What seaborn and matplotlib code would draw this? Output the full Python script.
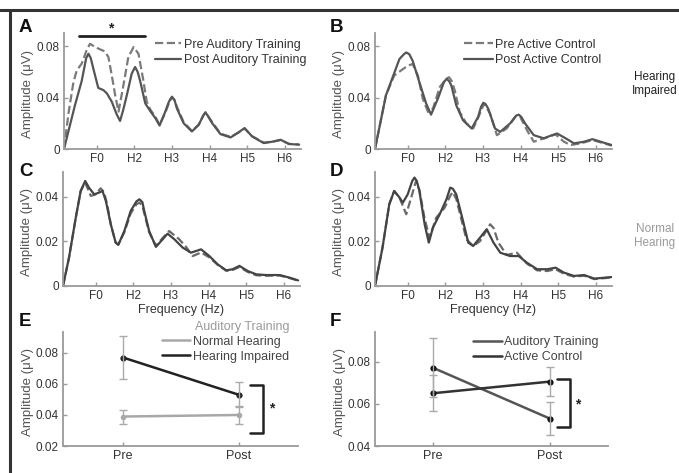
import numpy as np
import pandas as pd
import matplotlib
matplotlib.use("Agg")
import matplotlib.pyplot as plt
import seaborn as sns
from matplotlib.lines import Line2D

# ---------------- data ----------------
# Panel A (hearing impaired, auditory training)
a_post_f = [13, 42, 60, 72, 78, 84, 91, 104, 118, 127, 140, 153, 162, 170, 180, 193, 202, 209, 216, 229, 242, 256, 267, 282, 292, 300, 307, 313, 331, 353, 371, 383, 389, 395, 407, 429, 456, 478, 493, 513, 544, 571, 589, 611, 638]
a_post_v = [0.000, 0.034, 0.053, 0.071, 0.0743, 0.071, 0.0627, 0.0477, 0.0459, 0.0434, 0.0369, 0.0271, 0.0219, 0.030, 0.042, 0.0588, 0.064, 0.060, 0.0524, 0.0356, 0.0297, 0.024, 0.0183, 0.029, 0.037, 0.0408, 0.038, 0.0317, 0.0201, 0.0137, 0.0188, 0.026, 0.0286, 0.026, 0.0201, 0.0116, 0.009, 0.0132, 0.0163, 0.0098, 0.0046, 0.0059, 0.0072, 0.0039, 0.0034]
a_pre_f = [13, 25, 38, 47, 60, 73, 82, 96, 109, 122, 131, 140, 149, 158, 171, 184, 198, 211, 223, 233, 242, 256, 267, 282, 292, 300, 307, 313, 331, 353, 371, 383, 389, 395, 407, 429, 456, 478, 493, 513, 544, 571, 589, 611, 638]
a_pre_v = [0.000, 0.028, 0.052, 0.0614, 0.0666, 0.0769, 0.0821, 0.0795, 0.0777, 0.0761, 0.0717, 0.0575, 0.042, 0.0292, 0.0498, 0.0717, 0.0795, 0.0743, 0.055, 0.0369, 0.031, 0.025, 0.019, 0.028, 0.036, 0.0405, 0.038, 0.033, 0.021, 0.014, 0.019, 0.026, 0.0285, 0.026, 0.021, 0.012, 0.0095, 0.013, 0.016, 0.010, 0.005, 0.006, 0.007, 0.004, 0.0035]

# Panel B (hearing impaired, active control)
b_post_f = [13, 42, 60, 78, 90, 96, 104, 113, 131, 149, 162, 180, 196, 203, 210, 216, 229, 247, 270, 287, 295, 301, 307, 314, 332, 346, 372, 388, 395, 402, 412, 435, 462, 479, 497, 520, 542, 569, 591, 618, 642]
b_post_v = [0.000, 0.0418, 0.056, 0.0702, 0.074, 0.0753, 0.074, 0.0689, 0.0521, 0.0354, 0.0268, 0.0392, 0.052, 0.0547, 0.053, 0.0495, 0.0341, 0.0224, 0.016, 0.025, 0.033, 0.0361, 0.035, 0.0315, 0.016, 0.0134, 0.0199, 0.026, 0.0268, 0.025, 0.0199, 0.0108, 0.0083, 0.0103, 0.0121, 0.0083, 0.0044, 0.0057, 0.0077, 0.0052, 0.0031]
b_pre_f = [13, 42, 64, 82, 100, 113, 127, 140, 154, 167, 185, 203, 210, 217, 225, 238, 256, 274, 288, 303, 319, 337, 363, 386, 399, 417, 435, 462, 493, 515, 533, 560, 591, 622, 642]
b_pre_v = [0.000, 0.0418, 0.0573, 0.0612, 0.065, 0.0663, 0.0573, 0.0392, 0.0289, 0.0315, 0.0483, 0.055, 0.056, 0.053, 0.0457, 0.0289, 0.0199, 0.016, 0.025, 0.0354, 0.0276, 0.0108, 0.016, 0.025, 0.025, 0.0147, 0.0057, 0.0083, 0.0114, 0.0057, 0.0031, 0.0044, 0.007, 0.0044, 0.0026]

# Panel C (normal hearing, auditory training)
c_post_f = [13, 29, 47, 60, 72, 82, 96, 109, 118, 127, 140, 153, 160, 176, 193, 208, 216, 224, 229, 242, 260, 278, 291, 309, 331, 353, 380, 402, 424, 447, 464, 482, 504, 527, 553, 589, 616, 638]
c_post_v = [0.000, 0.0127, 0.0306, 0.0425, 0.047, 0.044, 0.041, 0.0418, 0.0425, 0.038, 0.0276, 0.0194, 0.0184, 0.0246, 0.0336, 0.0378, 0.0388, 0.0375, 0.0336, 0.0246, 0.0175, 0.0209, 0.0234, 0.0209, 0.0172, 0.0149, 0.0164, 0.0134, 0.0097, 0.007, 0.0075, 0.009, 0.0067, 0.0052, 0.0049, 0.0049, 0.0037, 0.0025]
c_pre_f = [13, 29, 47, 60, 72, 87, 100, 113, 122, 131, 140, 153, 160, 176, 193, 208, 216, 224, 229, 242, 260, 278, 295, 322, 340, 358, 380, 402, 424, 447, 464, 482, 504, 527, 553, 589, 616, 638]
c_pre_v = [0.000, 0.0127, 0.0306, 0.0425, 0.0462, 0.0403, 0.041, 0.0437, 0.042, 0.036, 0.0276, 0.0194, 0.0186, 0.0240, 0.0325, 0.0365, 0.0373, 0.036, 0.0325, 0.0240, 0.0180, 0.0215, 0.0246, 0.0209, 0.0175, 0.0134, 0.0150, 0.0128, 0.0095, 0.0068, 0.0072, 0.0085, 0.0063, 0.0048, 0.0046, 0.0047, 0.0035, 0.0024]

# Panel D (normal hearing, active control)
d_post_f = [13, 33, 51, 64, 78, 87, 100, 112, 118, 124, 131, 145, 156, 167, 185, 203, 213, 220, 229, 247, 261, 274, 292, 310, 328, 346, 372, 395, 417, 444, 471, 493, 515, 542, 569, 596, 622, 642]
d_post_v = [0.000, 0.0172, 0.0366, 0.0425, 0.0396, 0.0373, 0.041, 0.047, 0.0485, 0.047, 0.0425, 0.0276, 0.0194, 0.0261, 0.0321, 0.0388, 0.044, 0.0435, 0.041, 0.0291, 0.0194, 0.0179, 0.0216, 0.0254, 0.0194, 0.0149, 0.0134, 0.0134, 0.0104, 0.0075, 0.0075, 0.0082, 0.006, 0.0045, 0.0049, 0.0033, 0.0037, 0.004]
d_pre_f = [13, 33, 51, 64, 78, 96, 110, 122, 131, 145, 158, 176, 198, 212, 219, 229, 256, 274, 292, 310, 319, 328, 341, 363, 390, 417, 444, 471, 493, 515, 542, 569, 596, 622, 642]
d_pre_v = [0.000, 0.0172, 0.0366, 0.0425, 0.0396, 0.0321, 0.040, 0.047, 0.043, 0.030, 0.0216, 0.0306, 0.035, 0.040, 0.042, 0.039, 0.0209, 0.0179, 0.0200, 0.0250, 0.0276, 0.0260, 0.0194, 0.0139, 0.0149, 0.0100, 0.0070, 0.0067, 0.0075, 0.0055, 0.0042, 0.0046, 0.0031, 0.0035, 0.0038]

harm_ticks = [100, 200, 300, 400, 500, 600]
harm_labels = ["F0", "H2", "H3", "H4", "H5", "H6"]

# Panels E and F
conditions = ["Pre", "Post"]
e_nh_mean = [0.039, 0.040]
e_nh_err = [0.0045, 0.0055]
e_hi_mean = [0.077, 0.053]
e_hi_err = [0.014, 0.008]
f_at_mean = [0.077, 0.053]
f_at_err = [0.014, 0.008]
f_ac_mean = [0.065, 0.0705]
f_ac_err = [0.0085, 0.007]

# ---------------- figure ----------------
sns.set_theme(style="ticks")
plt.rcParams['font.family'] = ['Liberation Sans', 'DejaVu Sans']

W, H = 679, 473
fig = plt.figure(figsize=(W / 100, H / 100), dpi=100)
fig.patch.set_facecolor("white")


def px_axes(x0, y0, x1, y1):
    return fig.add_axes([x0 / W, 1 - y1 / H, (x1 - x0) / W, (y1 - y0) / H])


AX = "#9a9a9a"
TXT = "#333333"


def style(ax):
    sns.despine(ax=ax)
    for s in ["left", "bottom"]:
        ax.spines[s].set_color(AX)
        ax.spines[s].set_linewidth(1.3)
    ax.tick_params(direction="in", length=3, width=1, color=AX, labelsize=8.5,
                   labelcolor=TXT, pad=3)
    ax.set_facecolor("white")
    ax.set_ylabel("Amplitude (μV)", fontsize=9.5, color="#555555")
    ax.yaxis.set_label_coords(-0.125, 0.47)


def spectrum(ax, pre_f, pre_v, post_f, post_v, pre_lab, post_lab, ylim, yticks, ylabels,
             pre_col="#7a7a7a", post_col="#555555"):
    sns.lineplot(x=pre_f, y=pre_v, ax=ax, sort=False, estimator=None, color=pre_col,
                 linestyle="--", linewidth=1.6, label=pre_lab)
    sns.lineplot(x=post_f, y=post_v, ax=ax, sort=False, estimator=None, color=post_col,
                 linestyle="-", linewidth=1.6, label=post_lab)
    ax.set_xlim(13, 643)
    ax.set_ylim(*ylim)
    ax.set_xticks(harm_ticks)
    ax.set_xticklabels(harm_labels)
    ax.set_yticks(yticks)
    ax.set_yticklabels(ylabels)
    ax.set_xlabel("")
    style(ax)


axA = px_axes(64, 33, 301, 149)
spectrum(axA, a_pre_f, a_pre_v, a_post_f, a_post_v, "Pre Auditory Training", "Post Auditory Training",
         (0, 0.0905), [0, 0.04, 0.08], ["0", "0.04", "0.08"])
axB = px_axes(375, 33, 612, 149)
spectrum(axB, b_pre_f, b_pre_v, b_post_f, b_post_v, "Pre Active Control", "Post Active Control",
         (0, 0.0905), [0, 0.04, 0.08], ["0", "0.04", "0.08"])
axC = px_axes(63, 172, 300, 286)
spectrum(axC, c_pre_f, c_pre_v, c_post_f, c_post_v, None, None,
         (0, 0.051), [0, 0.02, 0.04], ["0", "0.02", "0.04"], pre_col="#6a6a6a", post_col="#444444")
axD = px_axes(375, 172, 612, 286)
spectrum(axD, d_pre_f, d_pre_v, d_post_f, d_post_v, None, None,
         (0, 0.051), [0, 0.02, 0.04], ["0", "0.02", "0.04"], pre_col="#6a6a6a", post_col="#444444")
for ax in (axC, axD):
    ax.set_xlabel("Frequency (Hz)", fontsize=9, color=TXT, labelpad=1)
    if ax.get_legend():
        ax.get_legend().remove()

legA = axA.legend(loc="upper left", bbox_to_anchor=(0.385, 0.95), frameon=False, fontsize=9,
                  handlelength=2.1, handletextpad=0.2, labelspacing=0.25, borderpad=0, borderaxespad=0)
legB = axB.legend(loc="upper left", bbox_to_anchor=(0.375, 0.95), frameon=False, fontsize=9,
                  handlelength=2.3, handletextpad=0.2, labelspacing=0.25, borderpad=0, borderaxespad=0)
for lg in (legA, legB):
    for t in lg.get_texts():
        t.set_color(TXT)

# significance bar in A
axA.plot([54, 229], [0.0885, 0.0885], color="#222222", linewidth=2, clip_on=False)
axA.text(137, 0.0888, "*", ha="center", va="bottom", fontsize=10, fontweight="bold", color="#222222")

# ---------------- E ----------------
axE = px_axes(63, 332, 298, 446)
sns.lineplot(x=conditions, y=e_nh_mean, ax=axE, sort=False, color="#a8a8a8", linewidth=1.8,
             marker="o", markersize=4, markeredgewidth=0)
sns.lineplot(x=conditions, y=e_hi_mean, ax=axE, sort=False, color="#222222", linewidth=1.8,
             marker="o", markersize=4.5, markeredgewidth=0)
axE.errorbar(conditions, e_nh_mean, yerr=e_nh_err, fmt="none", ecolor="#aaaaaa", elinewidth=1, capsize=3)
axE.errorbar(conditions, e_hi_mean, yerr=e_hi_err, fmt="none", ecolor="#aaaaaa", elinewidth=1, capsize=3)
axE.set_xlim(-0.52, 1.51)
axE.set_ylim(0.02, 0.0935)
axE.set_yticks([0.02, 0.04, 0.06, 0.08])
axE.set_yticklabels(["0.02", "0.04", "0.06", "0.08"])
axE.set_xlabel("")
style(axE)
axE.tick_params(axis="x", labelsize=9)
hE = [Line2D([], [], color="#a8a8a8", lw=1.8), Line2D([], [], color="#222222", lw=1.8)]
legE = axE.legend(hE, ["Normal Hearing", "Hearing Impaired"], loc="upper left",
                  bbox_to_anchor=(0.42, 1.10), frameon=False, fontsize=9,
                  title="Auditory Training", title_fontsize=9, alignment="right",
                  handlelength=2.3, handletextpad=0.2, labelspacing=0.25, borderpad=0, borderaxespad=0)
legE.get_title().set_color("#9a9a9a")
for t in legE.get_texts():
    t.set_color("#444444")
axE.plot([1.095, 1.207, 1.207, 1.095], [0.0594, 0.0594, 0.0284, 0.0284], color="#222222",
         linewidth=1.8, clip_on=False)
axE.text(1.285, 0.0440, "*", ha="center", va="center", fontsize=10, fontweight="bold", color="#222222")

# ---------------- F ----------------
axF = px_axes(375, 332, 608, 446)
sns.lineplot(x=conditions, y=f_at_mean, ax=axF, sort=False, color="#555555", linewidth=1.8,
             marker="o", markersize=4.5, markeredgewidth=0)
sns.lineplot(x=conditions, y=f_ac_mean, ax=axF, sort=False, color="#333333", linewidth=1.8,
             marker="o", markersize=4.5, markeredgewidth=0)
for ln in axF.get_lines():
    ln.set_markerfacecolor("#111111")
axF.errorbar(conditions, f_at_mean, yerr=f_at_err, fmt="none", ecolor="#aaaaaa", elinewidth=1, capsize=3)
axF.errorbar(conditions, f_ac_mean, yerr=f_ac_err, fmt="none", ecolor="#aaaaaa", elinewidth=1, capsize=3)
axF.set_xlim(-0.5, 1.5)
axF.set_ylim(0.04, 0.094)
axF.set_yticks([0.04, 0.06, 0.08])
axF.set_yticklabels(["0.04", "0.06", "0.08"])
axF.set_xlabel("")
style(axF)
axF.tick_params(axis="x", labelsize=9)
hF = [Line2D([], [], color="#555555", lw=1.8), Line2D([], [], color="#333333", lw=1.8)]
legF = axF.legend(hF, ["Auditory Training", "Active Control"], loc="upper left",
                  bbox_to_anchor=(0.42, 0.965), frameon=False, fontsize=9,
                  handlelength=2.3, handletextpad=0.2, labelspacing=0.25, borderpad=0, borderaxespad=0)
for t in legF.get_texts():
    t.set_color("#444444")
axF.plot([1.064, 1.175, 1.175, 1.064], [0.0719, 0.0719, 0.049, 0.049], color="#222222",
         linewidth=1.8, clip_on=False)
axF.text(1.244, 0.0595, "*", ha="center", va="center", fontsize=10, fontweight="bold", color="#222222")

# ---------------- panel letters & side labels ----------------
for lab, (x, y) in {"A": (19, 28), "B": (330, 28), "C": (19, 172), "D": (330, 172),
                    "E": (19, 321), "F": (330, 321)}.items():
    fig.text(x / W, 1 - y / H, lab, fontsize=13.5, fontweight="bold", color="#111111",
             ha="left", va="center")
fig.text(655 / W, 1 - 84 / H, "Hearing\nImpaired", fontsize=8.5, color="#222222",
         ha="center", va="center", linespacing=1.2)
fig.text(655 / W, 1 - 236 / H, "Normal\nHearing", fontsize=8.5, color="#9a9a9a",
         ha="center", va="center", linespacing=1.2)

# outer frame lines (top and left)
fig.add_artist(Line2D([0, 1], [1 - 10 / H, 1 - 10 / H], transform=fig.transFigure,
                      color="#333333", linewidth=2.2))
fig.add_artist(Line2D([10 / W, 10 / W], [0, 1 - 10 / H], transform=fig.transFigure,
                      color="#333333", linewidth=2.2))

fig.savefig("out.png", dpi=100, facecolor="white")
